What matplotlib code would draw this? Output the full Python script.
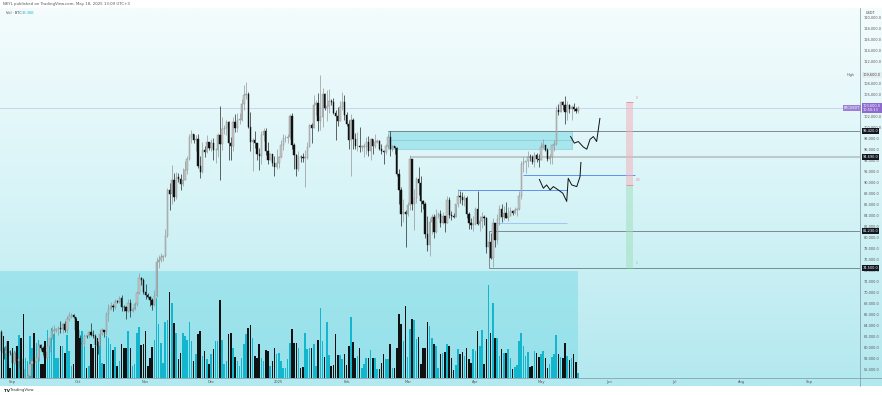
import numpy as np
import pandas as pd
import matplotlib
matplotlib.use("Agg")
import matplotlib.pyplot as plt
import matplotlib.dates as mdates
import matplotlib.transforms as mtransforms
from matplotlib.patches import Rectangle
from matplotlib.lines import Line2D
from matplotlib.colors import LinearSegmentedColormap

# BTCUSDT daily candles, prices in thousands of USDT
start_date = "2024-08-27"
first_open = 62.8

closes = [
    59.4, 59.0, 59.4, 59.1, 58.97,
    57.3, 59.1, 57.5, 57.97, 56.2, 53.95, 54.16, 54.87, 57.04, 57.65,
    57.34, 58.13, 60.5, 59.99, 59.13, 58.2, 60.3, 61.76, 62.95, 63.2,
    63.35, 63.58, 63.33, 64.3, 63.14, 65.18, 65.77, 65.87, 65.6, 63.3,
    60.8, 60.65, 60.75, 62.08, 62.05, 62.82, 62.22, 62.13, 60.58, 60.27,
    62.45, 63.2, 62.85, 66.08, 67.04, 67.6, 67.4, 68.4, 68.36, 69.0,
    67.37, 67.36, 66.66, 68.16, 66.6, 67.0, 67.9, 69.9, 72.7, 72.3, 70.2,
    69.5, 69.3, 68.7, 67.8, 69.4, 75.6, 76.0, 76.5, 76.7, 80.4,
    88.7, 87.9, 90.5, 87.4, 91.0, 90.6, 89.8, 90.5, 92.3, 94.3,
    98.3, 98.9, 97.7, 97.9, 93.0, 91.9, 95.9, 95.6, 97.5, 96.4,
    97.2, 95.9, 96.0, 98.6, 97.0, 99.8, 99.9, 101.1, 97.3, 96.6,
    101.1, 100.0, 101.4, 101.4, 104.3, 106.0, 106.1, 100.2, 97.5, 97.8,
    97.2, 95.2, 94.9, 98.7, 99.4, 95.8, 94.2, 95.2, 93.6, 92.8, 93.6,
    94.6, 96.9, 98.1, 98.2, 98.3, 102.2, 96.9, 95.0, 92.5, 94.7,
    94.6, 94.5, 94.5, 96.5, 100.5, 99.99, 104.1, 104.5, 101.3, 102.0,
    106.1, 103.65, 103.9, 104.8, 104.7, 102.6, 102.1, 101.3, 103.7, 104.7, 102.4,
    100.6, 97.7, 101.4, 97.9, 96.6, 96.6, 96.5, 96.5, 96.5, 97.4,
    95.8, 97.9, 96.6, 97.5, 97.6, 96.1, 95.8, 95.6, 96.6, 98.3,
    96.1, 96.6, 96.3, 91.5, 88.7, 84.3, 84.7, 84.35,
    86.0, 94.3, 86.1, 87.2, 90.6, 89.9, 86.7, 86.15, 80.7, 78.6,
    82.9, 83.7, 81.1, 83.98, 84.35, 82.6, 84.0, 82.7, 86.85, 84.2,
    84.0, 83.8, 86.1, 87.5, 87.4, 86.9, 87.2, 84.35, 82.6, 82.4, 82.55,
    85.2, 82.5, 83.1, 83.8, 83.5, 78.4, 79.2, 76.3, 82.6, 79.6,
    83.4, 85.3, 83.7, 84.5, 83.6, 84.0, 84.9, 84.45, 85.06, 85.17,
    87.5, 93.4, 93.7, 93.9, 94.7, 94.6, 93.75, 95.0, 94.3, 94.2,
    96.5, 96.9, 95.9, 94.3, 94.75, 96.8, 97.0, 103.2, 102.9, 104.6,
    104.1, 102.8, 104.1, 103.5, 103.7, 103.5, 103.1, 103.6,
]

highs = [
    63.2, 60.2, 61.2, 59.8, 59.5,
    59.0, 59.4, 59.8, 58.5, 58.3, 57.0, 54.85, 55.3, 58.1, 58.0,
    57.98, 58.6, 60.7, 60.6, 60.4, 59.2, 61.3, 61.8, 63.9, 64.1,
    63.6, 64.0, 64.8, 64.5, 64.8, 65.8, 66.5, 66.3, 66.1, 65.6,
    64.1, 62.4, 61.5, 62.5, 62.4, 63.0, 64.5, 63.2, 62.5, 61.3,
    63.4, 63.5, 63.3, 66.5, 67.9, 68.4, 67.9, 68.9, 68.7, 69.4,
    69.5, 67.8, 67.5, 68.8, 68.8, 67.4, 68.3, 70.3, 73.6, 72.9, 72.7,
    71.6, 69.9, 69.4, 69.0, 70.5, 76.5, 76.9, 77.2, 76.9, 81.5,
    89.0, 89.9, 93.3, 91.8, 91.9, 91.8, 91.5, 92.6, 94.0, 94.9,
    98.9, 99.6, 98.8, 98.7, 98.8, 94.8, 97.4, 96.6, 98.7, 97.5,
    97.9, 98.2, 96.3, 99.0, 104.0, 101.9, 100.5, 101.4, 101.2, 98.3,
    101.9, 102.5, 102.6, 102.65, 105.2, 107.8, 108.35, 106.5, 102.8, 98.1,
    99.5, 97.3, 96.4, 99.4, 99.96, 99.9, 97.4, 95.5, 95.2, 94.9, 96.2,
    94.9, 97.8, 98.9, 98.7, 98.8, 102.5, 102.7, 97.3, 95.3, 95.8,
    95.0, 95.4, 95.9, 97.4, 100.7, 100.9, 105.9, 104.99, 106.3, 109.6,
    107.2, 106.3, 106.85, 107.1, 105.3, 105.5, 103.2, 103.8, 104.8, 106.5, 106.0,
    102.8, 101.5, 102.5, 101.7, 99.0, 99.2, 100.1, 96.9, 97.3, 98.3,
    98.5, 98.1, 98.0, 98.8, 97.9, 97.7, 97.0, 96.0, 97.0, 98.8,
    99.5, 96.9, 96.5, 96.5, 92.5, 89.3, 87.0, 85.1,
    86.5, 95.0, 94.4, 88.9, 91.0, 92.8, 91.2, 86.9, 86.5, 83.9,
    83.6, 84.4, 84.3, 85.3, 84.7, 85.0, 84.7, 83.9, 87.5, 87.4,
    84.8, 84.5, 86.1, 88.8, 88.5, 88.3, 87.8, 87.5, 84.6, 83.5, 83.9,
    85.5, 88.5, 83.9, 84.7, 84.2, 83.8, 81.2, 80.8, 83.5, 82.7,
    84.3, 85.9, 86.1, 85.8, 86.5, 85.5, 85.5, 85.0, 85.6, 85.3,
    88.5, 93.9, 94.7, 94.0, 95.8, 95.3, 95.1, 95.6, 95.5, 95.2,
    97.4, 97.9, 96.95, 96.3, 95.2, 96.9, 97.7, 104.0, 104.4, 104.9,
    104.9, 105.8, 104.9, 104.3, 104.2, 104.55, 103.7, 104.0,
]

lows = [
    58.1, 57.9, 58.8, 57.8, 58.7,
    57.2, 57.1, 57.4, 55.6, 55.7, 52.55, 53.7, 53.65, 54.6, 56.4,
    55.5, 57.3, 57.6, 59.5, 58.7, 57.5, 57.6, 59.2, 61.6, 62.4,
    62.8, 62.4, 62.7, 62.7, 62.9, 62.7, 64.8, 65.4, 65.4, 62.9,
    60.2, 59.8, 59.8, 60.5, 61.7, 61.8, 62.1, 61.8, 60.3, 58.9,
    60.1, 62.4, 62.0, 62.4, 64.8, 66.8, 66.7, 67.1, 68.1, 68.1,
    66.6, 66.6, 65.3, 66.5, 65.5, 66.5, 66.8, 67.5, 69.7, 71.4, 69.7,
    68.8, 69.0, 67.5, 66.8, 67.5, 69.3, 74.5, 75.6, 75.8, 76.5,
    80.2, 85.1, 86.1, 86.7, 87.1, 90.1, 88.7, 89.4, 90.8, 91.5,
    94.1, 97.2, 97.2, 95.8, 92.6, 90.8, 91.8, 94.6, 95.4, 96.0,
    95.7, 94.2, 93.6, 94.6, 90.5, 95.9, 98.9, 98.7, 94.1, 94.2,
    95.7, 99.3, 99.2, 100.6, 101.2, 103.3, 105.3, 100.0, 95.7, 92.2,
    96.4, 94.2, 92.4, 93.4, 97.6, 95.1, 93.5, 94.1, 93.1, 91.3, 92.5,
    92.7, 94.5, 96.0, 97.5, 97.3, 97.9, 96.1, 92.5, 91.2, 92.2,
    93.8, 93.7, 89.2, 94.3, 96.5, 97.3, 99.95, 102.3, 99.5, 99.55,
    100.1, 103.3, 101.2, 102.75, 104.1, 102.5, 97.8, 100.3, 101.3, 103.3, 101.5,
    100.3, 96.2, 91.2, 96.2, 96.2, 95.7, 95.65, 95.7, 94.7, 95.3,
    94.9, 94.1, 95.2, 96.3, 97.2, 96.0, 95.2, 93.4, 95.2, 96.4,
    94.9, 95.7, 95.2, 91.2, 86.05, 82.2, 82.8, 78.3,
    84.0, 85.0, 85.1, 81.4, 86.3, 87.8, 84.7, 85.2, 80.0, 77.5,
    76.6, 80.6, 79.9, 80.8, 83.6, 82.0, 82.5, 81.1, 82.6, 83.6,
    83.2, 83.65, 83.8, 85.5, 86.3, 85.9, 85.8, 83.6, 81.6, 81.6, 81.3,
    82.4, 82.3, 81.2, 81.7, 82.4, 77.2, 74.5, 76.2, 74.6, 78.4,
    78.9, 82.3, 82.9, 83.2, 83.6, 83.1, 83.9, 84.1, 84.3, 83.95,
    85.1, 87.1, 91.9, 91.7, 92.9, 93.9, 93.5, 92.9, 93.7, 92.9,
    94.1, 96.3, 95.7, 94.0, 93.5, 93.4, 95.8, 96.9, 102.3, 102.8,
    103.3, 100.7, 101.4, 102.6, 101.4, 103.1, 102.6, 102.6,
]

volumes = [
    40, 42, 32, 37, 10,
    30, 27, 32, 43, 40, 64, 20, 17, 42, 30, 45, 35, 38, 14, 14,
    37, 48, 39, 50, 44, 20, 20, 32, 32, 25, 43, 27, 12, 14, 59,
    57, 40, 47, 32, 10, 12, 34, 30, 32, 40, 43, 15, 14, 42, 40, 34,
    28, 31, 12, 17, 34, 30, 30, 47, 30, 12, 14, 45, 51, 33, 34,
    47, 12, 20, 31, 38, 80, 54, 35, 15, 56, 58, 86, 75, 55, 45,
    19, 25, 45, 42, 38, 56, 37, 17, 24, 44, 47, 22, 27, 19, 14,
    24, 29, 37, 37, 78, 38, 14, 17, 44, 45, 30, 21, 17, 12, 20, 34,
    44, 50, 53, 40, 22, 20, 34, 20, 17, 28, 27, 12, 17, 30, 24,
    25, 17, 10, 10, 19, 35, 49, 35, 35, 30, 10, 11, 45, 29, 30, 30,
    34, 12, 38, 70, 37, 21, 56, 23, 12, 13, 44, 23, 23, 19, 24,
    13, 32, 61, 36, 20, 22, 30, 10, 14, 20, 20, 28, 20, 20,
    9, 9, 15, 24, 19, 19, 34, 10, 10, 30, 64, 54, 37, 72,
    21, 49, 59, 58, 39, 41, 14, 30, 30, 56, 52, 40, 34, 32, 10, 24,
    25, 26, 34, 32, 20, 8, 13, 29, 24, 26, 22, 30, 19, 15, 29,
    27, 47, 32, 48, 14, 39, 93, 45, 75, 40, 40, 22, 29, 25, 25,
    29, 20, 9, 11, 13, 37, 45, 32, 22, 26, 11, 12, 27, 25, 21,
    24, 27, 20, 10, 14, 21, 24, 43, 24, 21, 20, 35, 22, 18, 20, 24, 16, 5,
]

month_starts = pd.date_range("2024-09-01", "2025-09-01", freq="MS")
month_labels = ["Sep", "Oct", "Nov", "Dec", "2025", "Feb", "Mar", "Apr",
                "May", "Jun", "Jul", "Aug", "Sep"]
price_ticks = list(range(56, 121, 2))

# drawings
zone_dates = ("2025-02-20", "2025-05-15")
zone_prices = (96.14, 99.42)
resist_start, resist_level = "2025-03-02", 94.69
blue_lines = [(91.40, "2025-04-23", "2025-06-13"),
              (88.69, "2025-03-24", "2025-05-13")]
light_blue_line = (82.70, "2025-04-09", "2025-05-13")
range_start = "2025-04-07"
range_prices = (74.50, 81.23)
fib_dates = ("2025-06-09", "2025-06-12")
fib_prices = (104.60, 89.55, 74.50)
vol_box_top = 74.0
curve_a_days = [-3.4, -1.7, 0.1, 2.4, 4.0, 5.5, 7.0, 8.5, 10.0]
curve_a_prices = [98.4, 97.2, 97.5, 96.5, 96.1, 97.9, 98.4, 97.5, 101.7]
curve_b_days = [-17.7, -15.9, -14.4, -12.8, -11.3, -9.1, -7.0, -5.2, -4.5, -2.9, -0.6, 0.9, 1.3]
curve_b_prices = [90.6, 89.0, 89.6, 88.7, 89.3, 88.7, 88.1, 86.6, 90.8, 89.6, 89.3, 91.1, 93.7]
countdown = "10:50:13"

# ---- figure ----
W, H = 882, 395
fig = plt.figure(figsize=(W / 100, H / 100), dpi=100)
fig.patch.set_facecolor("white")


def fx(px):
    return px / W


def fy(py):
    return 1 - py / H


bg = fig.add_axes([0, fy(386), 1, (386 - 8) / H])
cmap = LinearSegmentedColormap.from_list("tv", ["#f4fcfd", "#d7f4f7", "#b2e8ef"])
bg.imshow(np.linspace(0, 1, 256).reshape(-1, 1), aspect="auto", cmap=cmap,
          extent=[0, 1, 0, 1], origin="upper")
bg.axis("off")

rect = [0, fy(378), fx(860), (378 - 8) / H]
ax_v = fig.add_axes(rect)
ax = fig.add_axes(rect, sharex=ax_v)
for a in (ax_v, ax):
    a.set_facecolor("none")
    for s in a.spines.values():
        s.set_visible(False)

dates = pd.date_range(start_date, periods=len(closes), freq="D")
x = mdates.date2num(dates)
c = np.array(closes)
o = np.array([first_open] + closes[:-1])
h = np.maximum(np.array(highs), np.maximum(o, c))
l = np.minimum(np.array(lows), np.minimum(o, c))
up = c >= o

x0 = mdates.date2num(pd.Timestamp("2024-08-26 08:00"))
x1 = mdates.date2num(pd.Timestamp("2025-09-24 02:00"))
y0, y1 = 54.49, 121.78

# volume with its drawn box
ax_v.add_patch(Rectangle((x0, y0), x[-1] - x0, vol_box_top - y0, transform=ax.transData,
                         facecolor="#7fdbe7", alpha=0.55, edgecolor="none", zorder=0))
vol_colors = np.where(up, "#14b6cd", "#111111")
ax_v.bar(x, volumes, width=0.72, color=vol_colors, linewidth=0, zorder=2)
ax_v.set_ylim(0, 370)
ax_v.set_yticks([])
ax_v.tick_params(axis="x", length=0, labelbottom=False)

# drawings under the candles
ax.axhline(c[-1], color="#c9cdf3", lw=0.6, zorder=1)
zd = mdates.date2num(pd.to_datetime(list(zone_dates)))
ax.add_patch(Rectangle((zd[0], zone_prices[0]), zd[1] - zd[0], zone_prices[1] - zone_prices[0],
                       facecolor="#9be2ec", alpha=0.8, edgecolor="#74bcc6", lw=0.4, zorder=1))
ax.hlines((zone_prices[0] + zone_prices[1]) / 2, zd[0], zd[1], color="#78c3cc", lw=0.4, zorder=1)
ax.hlines(zone_prices[1], zd[0], x1, color="#6b7d7e", lw=0.6, zorder=1)
ax.hlines(resist_level, mdates.date2num(pd.Timestamp(resist_start)), x1,
          color="#b4bdbd", lw=1.1, zorder=1)
for lvl, a0, a1 in blue_lines:
    ax.hlines(lvl, mdates.date2num(pd.Timestamp(a0)), mdates.date2num(pd.Timestamp(a1)),
              color="#5f90ee", lw=0.7, zorder=1)
ax.hlines(light_blue_line[0], mdates.date2num(pd.Timestamp(light_blue_line[1])),
          mdates.date2num(pd.Timestamp(light_blue_line[2])), color="#9dbdf4", lw=0.6, zorder=1)
rs = mdates.date2num(pd.Timestamp(range_start))
ax.hlines(list(range_prices), rs, x1, color="#6b7d7e", lw=0.6, zorder=1)
ax.vlines(rs, range_prices[0], range_prices[1], color="#6b7d7e", lw=0.6, zorder=1)

fd = mdates.date2num(pd.to_datetime(list(fib_dates)))
ax.add_patch(Rectangle((fd[0], fib_prices[1]), fd[1] - fd[0], fib_prices[0] - fib_prices[1],
                       facecolor="#f3b3be", alpha=0.55, edgecolor="none", zorder=1))
ax.add_patch(Rectangle((fd[0], fib_prices[2]), fd[1] - fd[0], fib_prices[1] - fib_prices[2],
                       facecolor="#a5dfc0", alpha=0.55, edgecolor="none", zorder=1))
ax.hlines(fib_prices[:2], fd[0], fd[1], color="#ef8a9b", lw=0.6, zorder=1)
ax.hlines(fib_prices[2], fd[0], fd[1], color="#5fbf8c", lw=0.6, zorder=1)
for val, lab, col in zip(fib_prices, ["0", "0.5", "1"], ["#ef7f92", "#ef7f92", "#5fbf8c"]):
    ax.text(fd[1] + 1.3, val + 0.9, lab, fontsize=2.2, color=col, ha="left", va="center")

# candles
wick_col = np.where(up, "#8d8d8d", "#111111")
ax.vlines(x, l, h, colors=wick_col, lw=0.45, zorder=3)
body = np.maximum(np.abs(c - o), 0.12)
ax.bar(x[up], body[up], bottom=o[up], width=0.62, color="#c6c6c6",
       edgecolor="#8a8a8a", linewidth=0.3, zorder=4)
ax.bar(x[~up], body[~up], bottom=c[~up], width=0.62, color="#111111",
       edgecolor="#111111", linewidth=0.3, zorder=4)

# projected paths
last = x[-1]
ax.plot(last + np.array(curve_a_days), curve_a_prices, color="#111111", lw=0.7,
        solid_joinstyle="round", zorder=5)
ax.plot(last + np.array(curve_b_days), curve_b_prices, color="#111111", lw=0.7,
        solid_joinstyle="round", zorder=5)

ax.set_xlim(x0, x1)
ax.set_ylim(y0, y1)

# price axis tags
tag_levels = [zone_prices[1], resist_level, range_prices[1], range_prices[0], c[-1], h.max()]

ax.set_xticks(mdates.date2num(month_starts))
ax.set_xticklabels(month_labels)
ax.tick_params(axis="x", length=0, pad=1.6, labelsize=2.6, labelcolor="#555555")
ax.yaxis.tick_right()
ax.set_yticks(price_ticks)
# a tick label that sits under a tag is hidden by it, as on the screen
ax.set_yticklabels([f"{t * 1000:,.1f}" if min(abs(t - v) for v in tag_levels) > 0.45 else ""
                    for t in price_ticks])
ax.tick_params(axis="y", length=0, pad=2.6, labelsize=2.5, labelcolor="#555555")

tr = mtransforms.blended_transform_factory(ax.transAxes, ax.transData)


def tag(price, text, fc, tc="white", xpos=1.003):
    ax.text(xpos, price, text, transform=tr, fontsize=2.5, color=tc, ha="left", va="center",
            linespacing=1.0, clip_on=False, zorder=10,
            bbox=dict(boxstyle="square,pad=0.3", fc=fc, ec="none"))


for lvl in [zone_prices[1], resist_level, range_prices[1], range_prices[0]]:
    tag(lvl, f"{lvl * 1000:,.1f}", "#131722")
tag(c[-1], f"{c[-1] * 1000:,.1f}\n{countdown}", "#8e6ad0")
tag(c[-1], "BTCUSDT", "#9c7fd6", xpos=0.981)
tag(h.max(), f"{h.max() * 1000:,.1f}", "#e3eef1", tc="#444444")
ax.text(0.994, h.max(), "High", transform=tr, fontsize=2.4, color="#555555",
        ha="right", va="center")

# frame lines and texts
fig.add_artist(Line2D([fx(860), fx(860)], [fy(386), fy(8)], color="#7e979c", lw=0.5))
fig.add_artist(Line2D([0, 1], [fy(378), fy(378)], color="#7e979c", lw=0.5))
fig.text(fx(871), fy(13.5), "USDT", fontsize=2.5, color="#444444", ha="center", va="center")
fig.text(fx(3), fy(4), "NKYL published on TradingView.com, May 18, 2025 13:09 UTC+3",
         fontsize=2.8, color="#555555", va="center")
fig.text(fx(6), fy(13), "Vol · BTC", fontsize=2.6, color="#444444", va="center")
fig.text(fx(22), fy(13), "39.36K", fontsize=2.6, color="#14b6cd", va="center")
fig.text(fx(4), fy(390.5), "TV", fontsize=3, fontweight="bold", color="#131722", va="center")
fig.text(fx(10), fy(390.5), "TradingView", fontsize=2.8, color="#333333", va="center")

fig.savefig("out.png", dpi=100)
